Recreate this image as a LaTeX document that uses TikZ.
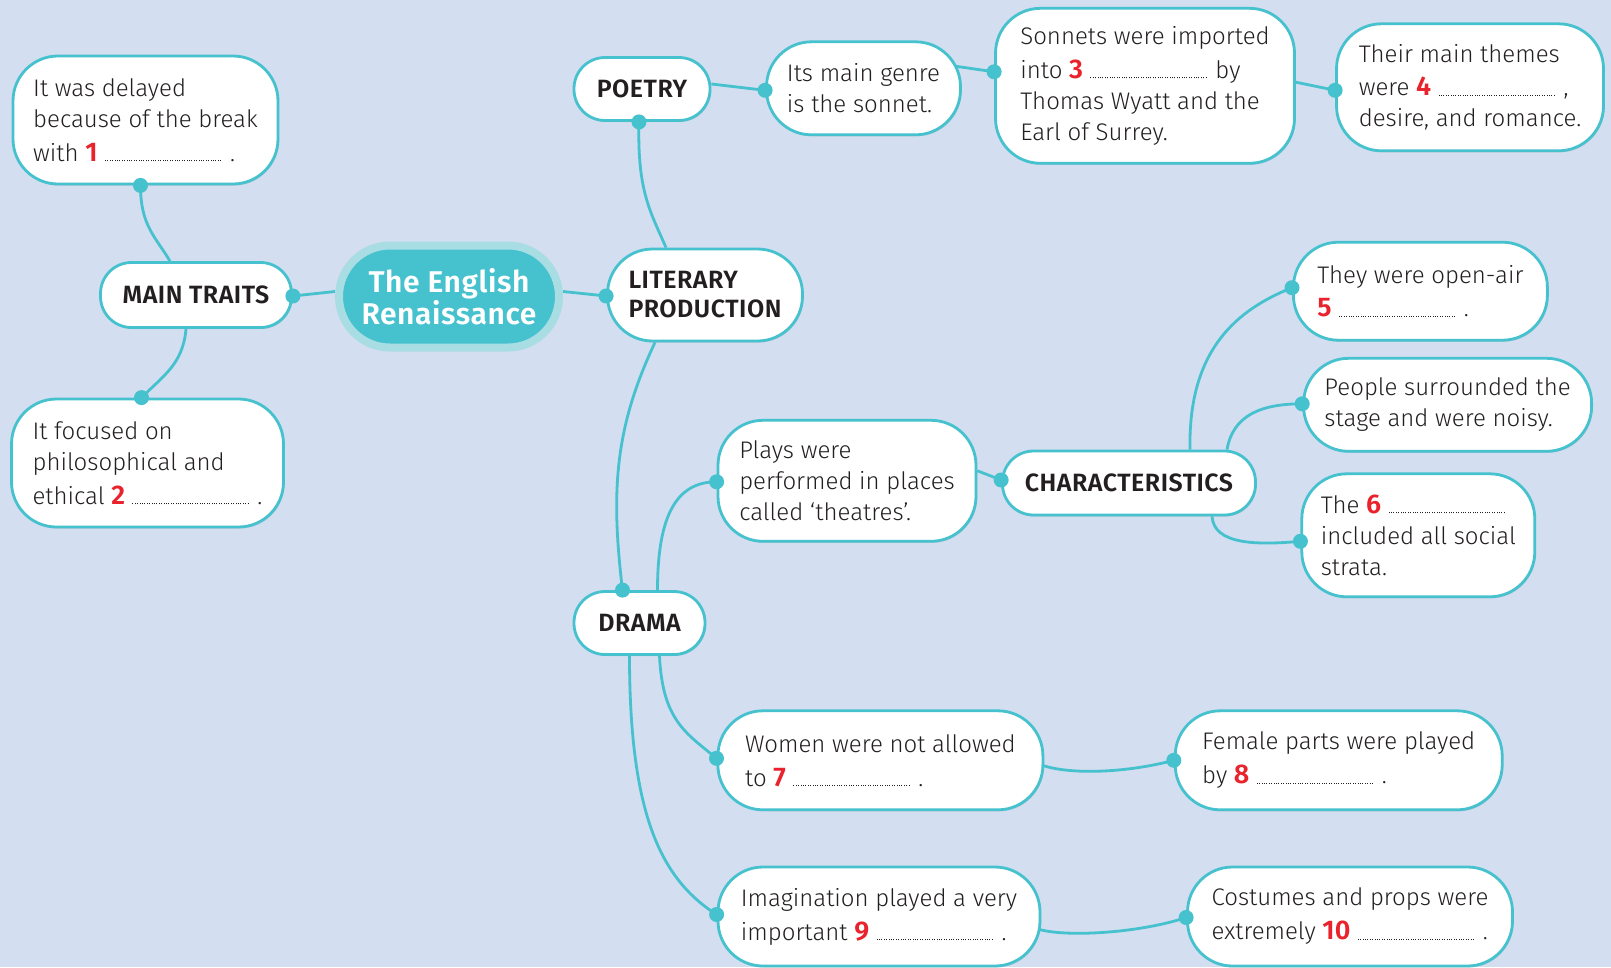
\documentclass[tikz,border=0pt]{standalone}
\usepackage{fontspec}
\setmainfont{Fira Sans}[UprightFont={* Light}]
\usepackage{tikz}
\usetikzlibrary{positioning,shadows}
\newcommand{\qnum}[1]{{\color{qred}\fontsize{27}{31}\selectfont\bfseries #1}}
\newcommand{\gapline}{\hbox to 119pt{\leaders\hbox to 2.4pt{\hss\rule{1pt}{1pt}\hss}\hfil}}

\begin{document}
\begin{tikzpicture}[x=1pt,y=-1pt,font=\fontsize{24}{31}\selectfont]
	\definecolor{bgcolor}{RGB}{211,222,240}
	\definecolor{tealc}{RGB}{70,193,206}
	\definecolor{haloc}{RGB}{168,221,228}
	\definecolor{qred}{RGB}{233,34,44}
	\definecolor{inkc}{RGB}{35,31,32}
	\pgfdeclarelayer{background}
	\pgfsetlayers{background,main}
	\tikzstyle{leaf}=[rectangle, rounded corners=45pt, draw=tealc, line width=2.8pt, fill=white, align=left, text=inkc, drop shadow={shadow xshift=1pt, shadow yshift=-1.5pt, opacity=0.25}]
	\tikzstyle{topic}=[leaf, rounded corners=31pt, font=\fontsize{25}{29}\selectfont\bfseries\addfontfeature{LetterSpace=2}]
	\tikzstyle{wire}=[draw=tealc, line width=2.8pt]
	\tikzstyle{knob}=[fill=tealc]
	\def\dotsize{7.5pt}
	
	\useasboundingbox (0,0) rectangle (1611,967);
	
	% Draw the centre node
	\node[draw=haloc, line width=8pt, fill=tealc, rounded corners=51pt, minimum width=220pt, minimum height=102pt, text=white, align=center, font=\fontsize{30}{30}\selectfont\bfseries\addfontfeature{LetterSpace=2}] (centre) at (449,296.5) {The English\\Renaissance};
	
	% Draw the topic nodes
	\node[topic, minimum width=191pt, minimum height=65pt] (traits) at (196,295) {MAIN TRAITS};
	\node[topic, rounded corners=45pt, minimum width=195pt, minimum height=92pt] (literary) at (705,295) {LITERARY\\PRODUCTION};
	\node[topic, minimum width=136pt, minimum height=63pt] (poetry) at (642,89) {POETRY};
	\node[topic, minimum width=131pt, minimum height=63pt] (drama) at (639.5,623) {DRAMA};
	\node[topic, minimum width=253pt, minimum height=64pt] (chars) at (1129,483) {CHARACTERISTICS};
	
	% Draw the leaf nodes
	\node[leaf, minimum width=265pt, minimum height=128pt] (delay) at (145.5,120) {It was delayed\\because of the break\\[3pt]with \qnum{1} \gapline\ .};
	\node[leaf, minimum width=272pt, minimum height=128pt] (focus) at (147.5,463) {It focused on\\philosophical and\\[3pt]ethical \qnum{2} \gapline\ .};
	\node[leaf, minimum width=194pt, minimum height=93pt] (genre) at (863.5,88.3) {Its main genre\\is the sonnet.};
	\node[leaf, minimum width=299pt, minimum height=155pt] (sonnets) at (1145,85.8) {Sonnets were imported\\[3pt]into \qnum{3} \gapline\ by\\Thomas Wyatt and the\\Earl of Surrey.};
	\node[leaf, minimum width=267pt, minimum height=127pt] (themes) at (1470,87.3) {Their main themes\\[2pt]were \qnum{4} \gapline\ ,\\desire, and romance.};
	\node[leaf, minimum width=254pt, minimum height=98pt] (openair) at (1420.4,291.2) {They were open-air\\[2pt]\qnum{5} \gapline\ .};
	\node[leaf, minimum width=288pt, minimum height=93pt] (people) at (1447.6,404.8) {People surrounded the\\stage and were noisy.};
	\node[leaf, minimum width=233pt, minimum height=123pt] (strata) at (1418.3,535.3) {The \qnum{6} \gapline\\included all social\\strata.};
	\node[leaf, minimum width=258pt, minimum height=121pt] (plays) at (847,480.8) {Plays were\\performed in places\\called ‘theatres’.};
	\node[leaf, minimum width=325pt, minimum height=99pt] (women) at (880.4,760.3) {Women were not allowed\\[3pt]to \qnum{7} \gapline\ .};
	\node[leaf, minimum width=327pt, minimum height=99pt] (female) at (1338.7,760.3) {Female parts were played\\[3pt]by \qnum{8} \gapline\ .};
	\node[leaf, minimum width=322pt, minimum height=99pt] (imag) at (879,916.5) {Imagination played a very\\[3pt]important \qnum{9} \gapline\ .};
	\node[leaf, minimum width=325pt, minimum height=99pt] (costumes) at (1350,916.5) {Costumes and props were\\[3pt]extremely \qnum{10} \gapline\ .};
	
	% Knob points on the borders
	\coordinate (k-delay) at ([xshift=-5pt]delay.south);
	\coordinate (k-traits) at ([yshift=-1pt]traits.east);
	\coordinate (k-focus) at ([xshift=-6pt]focus.north);
	\coordinate (k-literary) at ([yshift=-1pt]literary.west);
	\coordinate (k-poetry) at ([xshift=-3pt]poetry.south);
	\coordinate (k-genre) at ([yshift=-2pt]genre.west);
	\coordinate (k-sonnets) at ([yshift=14pt]sonnets.west);
	\coordinate (k-themes) at ([yshift=-3pt]themes.west);
	\coordinate (k-chars) at ([yshift=3pt]chars.west);
	\coordinate (k-openair) at ([yshift=3.5pt]openair.west);
	\coordinate (k-people) at ([yshift=1pt]people.west);
	\coordinate (k-strata) at ([yshift=-6pt]strata.west);
	\coordinate (k-plays) at ([yshift=-1pt]plays.west);
	\coordinate (k-drama) at ([xshift=-17pt]drama.north);
	\coordinate (k-women) at ([yshift=2pt]women.west);
	\coordinate (k-female) at (female.west);
	\coordinate (k-imag) at ([yshift=2pt]imag.west);
	\coordinate (k-costumes) at ([yshift=-1pt]costumes.west);
	
	\begin{pgfonlayer}{background}
	 \fill[bgcolor] (0,0) rectangle (1611,967);
	 % Connect the main traits
	 \draw[wire] (k-delay) .. controls +(0,40) and +(-15,-25) .. ([xshift=-26pt]traits.north);
	 \draw[wire] ([xshift=-10pt]traits.south) .. controls +(-3,35) and +(22,-22) .. (k-focus);
	 \draw[wire] (k-traits) -- ([yshift=5pt]centre.west);
	 \draw[wire] ([yshift=5pt]centre.east) -- (k-literary);
	 % Connect the poetry branch
	 \draw[wire] (k-poetry) .. controls +(-2,70) and +(-15,-35) .. ([xshift=-39pt]literary.north);
	 \draw[wire] ([yshift=5pt]poetry.east) -- (k-genre);
	 \draw[wire] ([xshift=-6pt,yshift=22pt]genre.east) -- (k-sonnets);
	 \draw[wire] ([xshift=-2pt,yshift=4pt]sonnets.east) -- (k-themes);
	 % Connect the drama branch
	 \draw[wire] ([xshift=-50pt]literary.south) .. controls +(-40,85) and +(-12,-100) .. (k-drama);
	 \draw[wire] ([xshift=18pt]drama.north) .. controls +(0,-75) and +(-40,0) .. (k-plays);
	 \draw[wire] ([yshift=10pt]plays.east) -- (k-chars);
	 \draw[wire] ([xshift=61pt]chars.north) .. controls +(-2,-100) and +(-55,22) .. (k-openair);
	 \draw[wire] ([xshift=98pt]chars.north) .. controls +(6,-35) and +(-40,0) .. (k-people);
	 \draw[wire] ([xshift=83pt]chars.south) .. controls +(2,28) and +(-45,4) .. (k-strata);
	 \draw[wire] ([xshift=20pt]drama.south) .. controls +(3,65) and +(-30,-25) .. (k-women);
	 \draw[wire] ([xshift=-10pt]drama.south) .. controls +(0,160) and +(-55,-35) .. (k-imag);
	 \draw[wire] ([xshift=-2pt,yshift=-5pt]women.east) .. controls +(30,10) and +(-45,12) .. (k-female);
	 \draw[wire] ([xshift=-2pt,yshift=-13pt]imag.east) .. controls +(30,8) and +(-45,15) .. (k-costumes);
	\end{pgfonlayer}
	
	% Draw the knobs on top
	\foreach \k in {delay,traits,focus,literary,poetry,genre,sonnets,themes,chars,openair,people,strata,plays,drama,women,female,imag,costumes}
	 \fill[knob] (k-\k) circle (\dotsize);
\end{tikzpicture}
\end{document}
